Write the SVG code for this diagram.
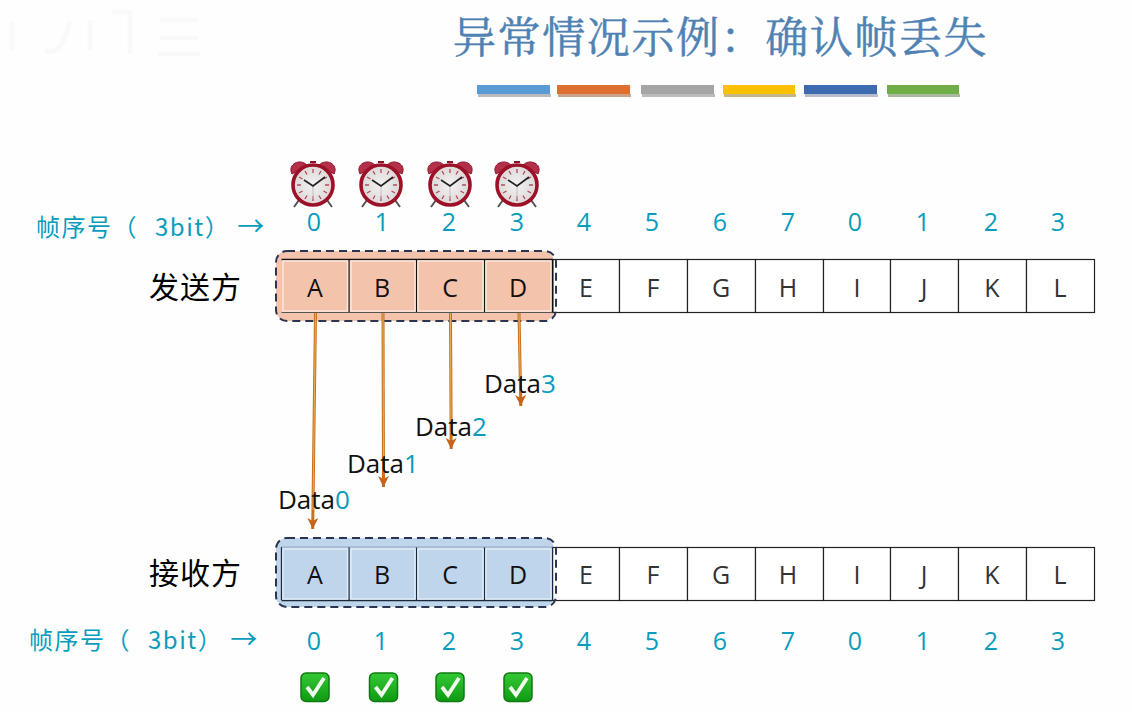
<svg xmlns="http://www.w3.org/2000/svg" width="1132" height="712" viewBox="0 0 1132 712">
<style>
text{font-family:"Open Sans","Noto Sans CJK SC",sans-serif}
.cn{font-family:"Noto Sans CJK SC",sans-serif}
.title{font-family:"Noto Serif CJK SC","Noto Sans CJK SC",serif;font-size:43px;fill:#4f82b3;stroke:#4f82b3;stroke-width:.5px;letter-spacing:1.6px}
.seq{font-size:25px;fill:#0a9cbc;text-anchor:middle}
.lbl{font-size:24px;fill:#0a9cbc;letter-spacing:1.5px}
.side{font-size:30px;fill:#000;letter-spacing:1px}
.cell{fill:#fff;stroke:#222;stroke-width:1.2}
.ci{fill:none;stroke:#fbe6dc;stroke-width:1.5}
.ci2{fill:none;stroke:#dfeaf6;stroke-width:1.5}
.let{font-size:25px;fill:#111;text-anchor:middle}
.let2{font-size:25px;fill:#333;text-anchor:middle}
.dash{stroke:#2b3450;stroke-width:2;stroke-dasharray:8 5}
.data{font-size:26px;fill:#111}
.data tspan{fill:#0a9cbc}
.arr{stroke:#c9701f;stroke-width:3;fill:none;marker-end:url(#ah)}
.arc{stroke:#f0c060;stroke-width:.8;fill:none}
</style>
<defs>
<marker id="ah" markerUnits="userSpaceOnUse" markerWidth="12" markerHeight="13" refX="11" refY="6" orient="auto"><path d="M0 0.500L11 6L0 11.500L3 6Z" fill="#c5641a"/></marker>
<radialGradient id="face"><stop offset="0" stop-color="#f3f1f1"/><stop offset="1" stop-color="#dcd8d8"/></radialGradient>
<linearGradient id="gr" x1="0" y1="0" x2="0" y2="1"><stop offset="0" stop-color="#35c935"/><stop offset="1" stop-color="#0f9a12"/></linearGradient>
<g id="clock">
<path d="M-21-11C-26-21-13-27-6-20Z" fill="#b4304a" stroke="#8c1228"/>
<path d="M21-11C26-21 13-27 6-20Z" fill="#b4304a" stroke="#8c1228"/>
<path d="M-3-23H3" stroke="#8c1228" stroke-width="2"/>
<path d="M-14 15L-19 22M14 15L19 22" stroke="#555" stroke-width="2"/>
<circle r="20" fill="url(#face)" stroke="#9c1128" stroke-width="3.600"/>
<path d="M0-16V-12M0 16V11M-16 0H-12M16 0H12M-8-14L-6-10.500M8-14L6-10.500M-8 14L-6 10.500M8 14L6 10.500M-14-8L-10.500-6M14-8L10.500-6M-14 8L-10.500 6M14 8L10.500 6" stroke="#b24a5c" stroke-width="1.300"/>
<path d="M0 0V14" stroke="#c4bebe" stroke-width="1"/>
<path d="M-9-5L0 1L12-8" stroke="#222" stroke-width="1.700" fill="none"/>
</g>
<g id="check">
<rect x="-14" y="-14" width="28" height="28.500" rx="5" fill="url(#gr)" stroke="#0f7a12" stroke-width="1.500"/>
<path d="M-8 0L-2 8L9-9" fill="none" stroke="#f2faf0" stroke-width="3.800"/>
</g>
</defs>
<rect width="1132" height="712" fill="#fefefe"/>
<g id="watermark" fill="none" stroke="#faf9fa" stroke-width="5">
<path d="M12 22V50M45 50C55 55 62 50 70 22M90 20V50M112 12H130V54M160 20H198M160 38H198M158 54H200"/>
</g>
<g id="title"><text class="title" x="453" y="53">异常情况示例：确认帧丢失</text></g>
<g id="bars">
<rect x="478" y="94" width="73" height="3" fill="#bbb"/><rect x="477" y="85" width="73" height="9" fill="#5b9bd5"/>
<rect x="558" y="94" width="73" height="3" fill="#c9a38c"/><rect x="557" y="85" width="73" height="9" fill="#dd7030"/>
<rect x="642" y="94" width="73" height="3" fill="#bbb"/><rect x="641" y="85" width="73" height="9" fill="#a5a5a5"/>
<rect x="724" y="94" width="72" height="3" fill="#c4b58a"/><rect x="723" y="85" width="72" height="9" fill="#fbc000"/>
<rect x="805" y="94" width="73" height="3" fill="#b6bccb"/><rect x="804" y="85" width="73" height="9" fill="#3c6bb0"/>
<rect x="888" y="94" width="72" height="3" fill="#aab8a0"/><rect x="887" y="85" width="72" height="9" fill="#70ad47"/>
</g>
<g id="clocks">
<use href="#clock" x="313" y="185"/><use href="#clock" x="381" y="185"/><use href="#clock" x="450" y="185"/><use href="#clock" x="517" y="185"/>
</g>
<g id="sender-seq-label"><text class="lbl cn" x="36" y="236">帧序号（<tspan dx="17">3bit</tspan>）<tspan dx="7" font-size="27">→</tspan></text></g>
<g id="sender-seq">
<text class="seq" x="314" y="231">0</text><text class="seq" x="382" y="231">1</text><text class="seq" x="449" y="231">2</text><text class="seq" x="517" y="231">3</text><text class="seq" x="584" y="231">4</text><text class="seq" x="652" y="231">5</text><text class="seq" x="720" y="231">6</text><text class="seq" x="788" y="231">7</text><text class="seq" x="855" y="231">0</text><text class="seq" x="923" y="231">1</text><text class="seq" x="991" y="231">2</text><text class="seq" x="1058" y="231">3</text>
</g>
<g id="sender-label"><text class="side cn" x="149" y="298">发送方</text></g>
<g id="sender-window"><rect x="276" y="251" width="278" height="70" rx="11" fill="#f4c3ac"/></g>
<g id="sender-frames">
<rect class="cell" x="552.500" y="259.500" width="67" height="53"/><rect class="cell" x="619.500" y="259.500" width="68" height="53"/><rect class="cell" x="687.500" y="259.500" width="68" height="53"/><rect class="cell" x="755.500" y="259.500" width="68" height="53"/><rect class="cell" x="823.500" y="259.500" width="67" height="53"/><rect class="cell" x="890.500" y="259.500" width="68" height="53"/><rect class="cell" x="958.500" y="259.500" width="68" height="53"/><rect class="cell" x="1026.500" y="259.500" width="68" height="53"/>
<path d="M281.500 259.500H552.500M349 259V312M416.500 259V312M484.500 259V312" stroke="#111" stroke-width="1.300" fill="none"/>
<path d="M552.500 259V312" stroke="#111" stroke-width="2" fill="none"/>
<path d="M281.500 312.500H552.500" stroke="#555" stroke-width="1" fill="none"/>
<path class="ci" d="M283 261H347.500V311H283ZM351 261H415V311H351ZM418 261H483V311H418ZM486 261H551V311H486Z"/>
<text class="let" x="315" y="297">A</text><text class="let" x="382" y="297">B</text><text class="let" x="450" y="297">C</text><text class="let" x="518" y="297">D</text><text class="let2" x="586" y="297">E</text><text class="let2" x="653" y="297">F</text><text class="let2" x="721" y="297">G</text><text class="let2" x="788" y="297">H</text><text class="let2" x="857" y="297">I</text><text class="let2" x="924" y="297">J</text><text class="let2" x="992" y="297">K</text><text class="let2" x="1060" y="297">L</text>
<rect x="276" y="251" width="280" height="70" rx="11" fill="none" class="dash"/>
</g>
<g id="connectors">
<path class="arr" d="M315.500 313L312.700 529"/>
<path class="arr" d="M383 313L383.500 487"/>
<path class="arr" d="M450.500 313L451.200 449"/>
<path class="arr" d="M519 313L520.800 406"/>
<path class="arc" d="M315.500 313L313 510M383 313L383.500 470M450.500 313L451 433M519 313L520.500 392"/>
</g>
<g id="data-labels">
<text class="data" x="278" y="509">Data<tspan>0</tspan></text>
<text class="data" x="347" y="473">Data<tspan>1</tspan></text>
<text class="data" x="415" y="436">Data<tspan>2</tspan></text>
<text class="data" x="484" y="393">Data<tspan>3</tspan></text>
</g>
<g id="receiver-label"><text class="side cn" x="149" y="584">接收方</text></g>
<g id="receiver-window"><rect x="276" y="538" width="278" height="69" rx="11" fill="#bfd5ec"/></g>
<g id="receiver-frames">
<rect class="cell" x="552.500" y="547.500" width="67" height="53"/><rect class="cell" x="619.500" y="547.500" width="68" height="53"/><rect class="cell" x="687.500" y="547.500" width="68" height="53"/><rect class="cell" x="755.500" y="547.500" width="68" height="53"/><rect class="cell" x="823.500" y="547.500" width="67" height="53"/><rect class="cell" x="890.500" y="547.500" width="68" height="53"/><rect class="cell" x="958.500" y="547.500" width="68" height="53"/><rect class="cell" x="1026.500" y="547.500" width="68" height="53"/>
<path d="M281.500 600.500H552.500M281.500 547V600M349 547V600M416.500 547V600M484.500 547V600M552.500 547V600" stroke="#1a2a3a" stroke-width="1.300" fill="none"/>
<path d="M281.500 547H552.500" stroke="#8fa6c0" stroke-width="1" fill="none"/>
<path class="ci2" d="M283 549H347.500V599H283ZM351 549H415V599H351ZM418 549H483V599H418ZM486 549H551V599H486Z"/>
<text class="let" x="315" y="584">A</text><text class="let" x="382" y="584">B</text><text class="let" x="450" y="584">C</text><text class="let" x="518" y="584">D</text><text class="let2" x="586" y="584">E</text><text class="let2" x="653" y="584">F</text><text class="let2" x="721" y="584">G</text><text class="let2" x="788" y="584">H</text><text class="let2" x="857" y="584">I</text><text class="let2" x="924" y="584">J</text><text class="let2" x="992" y="584">K</text><text class="let2" x="1060" y="584">L</text>
<rect x="276" y="538" width="280" height="69" rx="11" fill="none" class="dash"/>
</g>
<g id="receiver-seq-label"><text class="lbl cn" x="29" y="649">帧序号（<tspan dx="17">3bit</tspan>）<tspan dx="7" font-size="27">→</tspan></text></g>
<g id="receiver-seq">
<text class="seq" x="314" y="650">0</text><text class="seq" x="381" y="650">1</text><text class="seq" x="449" y="650">2</text><text class="seq" x="517" y="650">3</text><text class="seq" x="584" y="650">4</text><text class="seq" x="652" y="650">5</text><text class="seq" x="720" y="650">6</text><text class="seq" x="788" y="650">7</text><text class="seq" x="855" y="650">0</text><text class="seq" x="923" y="650">1</text><text class="seq" x="991" y="650">2</text><text class="seq" x="1058" y="650">3</text>
</g>
<g id="checks">
<use href="#check" x="315" y="687"/><use href="#check" x="383.500" y="687"/><use href="#check" x="450" y="687"/><use href="#check" x="518" y="687"/>
</g>
</svg>
